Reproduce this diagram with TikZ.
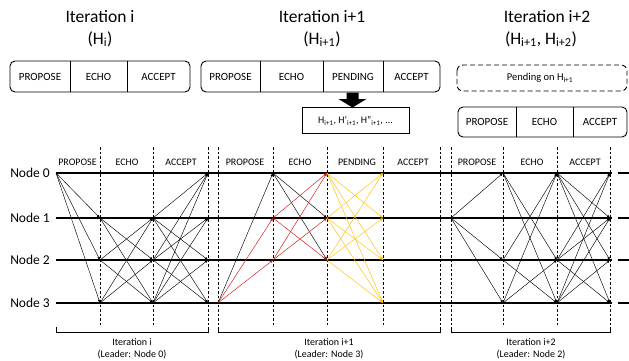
\documentclass[tikz,border=0pt]{standalone}
\usepackage{fontspec}
\setmainfont{Carlito}
\usetikzlibrary{arrows.meta,calc}
\definecolor{myred}{RGB}{210,20,20}
\definecolor{myyel}{RGB}{255,192,0}
\begin{document}
\begin{tikzpicture}[x=1pt,y=-1pt,
 msg/.style={line width=0.45pt, -{Latex[length=3.2pt,width=2.6pt]}},
 vline/.style={line width=0.6pt, dash pattern=on 2.5pt off 2pt},
 hline/.style={line width=1.3pt},
 boxline/.style={line width=0.9pt},
 ttl/.style={font=\fontsize{17.5}{20}\selectfont, inner sep=0pt},
 cell/.style={font=\fontsize{11}{13}\selectfont, inner sep=0pt},
 phase/.style={font=\fontsize{10}{12}\selectfont, inner sep=0pt},
 nlab/.style={font=\fontsize{13.5}{16}\selectfont, anchor=east, inner sep=0pt},
 blab/.style={font=\fontsize{10}{12}\selectfont, align=center, inner sep=0pt}
]
\useasboundingbox (0,0) rectangle (629,361);

% titles
\node[ttl] (t1) at (100,17) {Iteration i};
\node[ttl] (h1) at (100,39) {(H\textsubscript{i})};
\node[ttl] (t2) at (322,17) {Iteration i+1};
\node[ttl] (h2) at (322,39) {(H\textsubscript{i+1})};
\node[ttl] (t3) at (547,17) {Iteration i+2};
\node[ttl] (h3) at (541,39) {(H\textsubscript{i+1}, H\textsubscript{i+2})};

% box i
\draw[boxline, rounded corners=5pt] (10,61) rectangle (190,92);
\draw[boxline] (70,61) -- (70,92) (127,61) -- (127,92);
\node[cell] (bi1) at (40,76.5) {PROPOSE};
\node[cell] (bi2) at (98.5,76.5) {ECHO};
\node[cell] (bi3) at (158.5,76.5) {ACCEPT};

% box i+1
\draw[boxline, rounded corners=5pt] (201,61) rectangle (440,92);
\draw[boxline] (260,61) -- (260,92) (323,61) -- (323,92) (383,61) -- (383,92);
\node[cell] (bj1) at (230.5,76.5) {PROPOSE};
\node[cell] (bj2) at (291.5,76.5) {ECHO};
\node[cell] (bj3) at (353,76.5) {PENDING};
\node[cell] (bj4) at (411.5,76.5) {ACCEPT};

% arrow and H box
\fill (346.5,92.5) -- (358.5,92.5) -- (358.5,99) -- (366.5,99) -- (352.5,107.5) -- (338.5,99) -- (346.5,99) -- cycle;
\draw[boxline] (302,107.5) rectangle (409,133);
\node[cell, font=\fontsize{10}{12}\selectfont] (hb) at (355.5,121) {H\textsubscript{i+1}, H'\textsubscript{i+1}, H''\textsubscript{i+1}, ...};

% box i+2
\draw[boxline, dash pattern=on 5pt off 3pt, rounded corners=6pt] (457,65) rectangle (627,91);
\node[cell, font=\fontsize{10.5}{12}\selectfont] (pend) at (540,78) {Pending on H\textsubscript{i+1}};
\draw[boxline, rounded corners=5pt] (458,107) rectangle (627,137);
\draw[boxline] (516,107) -- (516,137) (573,107) -- (573,137);
\node[cell] (bk1) at (487,122) {PROPOSE};
\node[cell] (bk2) at (544.5,122) {ECHO};
\node[cell] (bk3) at (600,122) {ACCEPT};

% coordinates
\foreach \n/\x in {A/56,B/100,C/153,D/208,E/218,F/273,G/327,H/383,I/451,J/503,K/557,L/610,Z/612,Y/618,X/629}
  \foreach \r/\y in {0/173,1/218,2/260,3/303}
    \coordinate (\n\r) at (\x,\y);

% vertical dashed lines
\foreach \x in {100,153,208,218,273,327,383,440,451,503,557,610}
  \draw[vline] (\x,147) -- (\x,325);

% node labels and rows
\foreach \r in {0,1,2,3} {
  \node[nlab] (nl\r) at ($(A\r)+(-6,0)$) {Node \r};
  \draw[hline] (A\r) -- (Z\r);
  \draw[hline] (Y\r) -- (X\r);
}

% phase labels
\foreach \nm/\x/\t in {pa/77.5/PROPOSE, pb/127/ECHO, pc/181/ACCEPT,
  pd/245/PROPOSE, pe/300/ECHO, pf/357/PENDING, pg/413/ACCEPT,
  ph/477/PROPOSE, pi/532/ECHO, pj/585/ACCEPT}
  \node[phase] (\nm) at (\x,162) {\t};

% iteration i
\foreach \a/\b in {A0/B1,A0/B2,A0/B3,
  B1/C2,B1/C3,B2/C1,B2/C3,B3/C1,B3/C2,
  C1/D0,C1/D2,C1/D3,C2/D0,C2/D1,C2/D3,C3/D0,C3/D1,C3/D2}
  \draw[msg] (\a) -- (\b);

% iteration i+1
\foreach \a/\b in {E3/F0,F0/G1,F0/G2}
  \draw[msg] (\a) -- (\b);
\foreach \a/\b in {E3/F1,E3/F2,F1/G0,F1/G2,F2/G0,F2/G1}
  \draw[msg, myred] (\a) -- (\b);
\foreach \a/\b in {G0/H1,G0/H2,G0/H3,G1/H0,G1/H2,G1/H3,G2/H0,G2/H1,G2/H3}
  \draw[msg, myyel] (\a) -- (\b);

% iteration i+2
\foreach \a/\b in {I1/J0,I1/J2,I1/J3,
  J0/K2,J0/K3,J2/K0,J2/K3,J3/K0,J3/K2,
  K0/L1,K0/L2,K0/L3,K2/L0,K2/L1,K2/L3,K3/L0,K3/L1,K3/L2}
  \draw[msg] (\a) -- (\b);

% brackets
\draw[line width=0.8pt] (56,327) -- (56,332) -- (208,332) -- (208,327);
\draw[line width=0.8pt] (218,327) -- (218,332) -- (440,332) -- (440,327);
\draw[line width=0.8pt] (451,327) -- (451,332) -- (610,332) -- (610,327);
\node[blab] (l1) at (132,349) {Iteration i\\(Leader: Node 0)};
\node[blab] (l2) at (329,349) {Iteration i+1\\(Leader: Node 3)};
\node[blab] (l3) at (531,349) {Iteration i+2\\(Leader: Node 2)};
\end{tikzpicture}
\end{document}
